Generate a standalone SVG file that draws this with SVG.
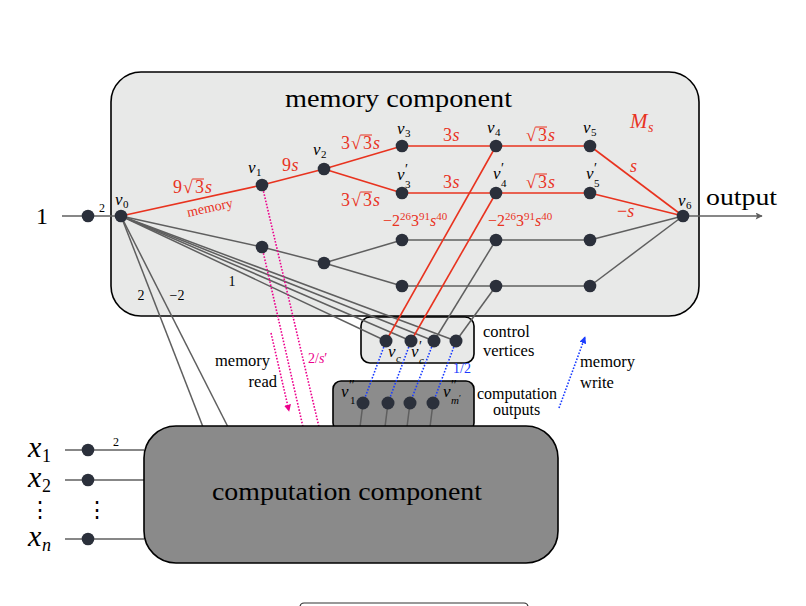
<svg xmlns="http://www.w3.org/2000/svg" width="806" height="606" viewBox="0 0 806 606">
<defs>
<style>
.t{font-family:"Liberation Serif","Times New Roman",serif;fill:#000}
.i{font-style:italic}
.rt{fill:#e8331f}
.n{fill:#2b303b}
.r{stroke:#e8331f;stroke-width:1.6;fill:none}
.g{stroke:#5f5f5f;stroke-width:1.5;fill:none}
.bd{stroke:#1a3cff;stroke-width:1.6;stroke-dasharray:1.6 1.6;fill:none}
.pd{stroke:#ec008c;stroke-width:1.6;stroke-dasharray:1.6 1.6;fill:none}
.box{stroke:#000;stroke-width:1.6}
.vb{stroke:#e8331f;stroke-width:1}
.pr{font-size:14px;font-style:normal}
</style>
<marker id="ap" viewBox="0 0 10 10" refX="9" refY="5" markerWidth="7" markerHeight="7" orient="auto" markerUnits="userSpaceOnUse"><path d="M0,0 L10,5 L0,10 z" fill="#ec008c"/></marker>
<marker id="ab" viewBox="0 0 10 10" refX="9" refY="5" markerWidth="7" markerHeight="7" orient="auto" markerUnits="userSpaceOnUse"><path d="M0,0 L10,5 L0,10 z" fill="#1a3cff"/></marker>
<marker id="ag" viewBox="0 0 10 10" refX="9" refY="5" markerWidth="8" markerHeight="7" orient="auto" markerUnits="userSpaceOnUse"><path d="M0,0 L10,5 L0,10 L2,5 z" fill="#5f5f5f"/></marker>
</defs>

<g id="memory-component">
<rect class="box" x="111" y="72" width="588" height="244" rx="30" fill="#e8e9e8"/>
<text class="t" x="285" y="107" font-size="25" textLength="227" lengthAdjust="spacingAndGlyphs">memory component</text>
<text class="t i rt" x="630" y="128" font-size="21">M<tspan x="648" y="132" font-size="14">s</tspan></text>
</g>

<g id="computation-outputs-box">
<rect class="box" x="333" y="381" width="141" height="50" rx="8" fill="#8c8c8c"/>
</g>

<g id="control-vertices-box">
<rect class="box" x="361" y="317" width="113" height="46" rx="9" fill="#e8e9e8"/>
</g>

<g id="connectors">
<line class="g" x1="62" y1="216" x2="121" y2="216"/>
<line class="g" x1="683" y1="216" x2="762" y2="216" marker-end="url(#ag)"/>
<line class="r" x1="121" y1="216" x2="262" y2="185"/>
<line class="r" x1="262" y1="185" x2="324" y2="169"/>
<line class="r" x1="324" y1="169" x2="402" y2="146"/>
<line class="r" x1="324" y1="169" x2="402" y2="193"/>
<line class="r" x1="402" y1="146" x2="496" y2="146"/>
<line class="r" x1="402" y1="193" x2="496" y2="193"/>
<line class="r" x1="496" y1="146" x2="590" y2="146"/>
<line class="r" x1="496" y1="193" x2="590" y2="193"/>
<line class="r" x1="590" y1="146" x2="683" y2="216"/>
<line class="r" x1="590" y1="193" x2="683" y2="216"/>
<line class="g" x1="121" y1="216" x2="262" y2="247"/>
<line class="g" x1="262" y1="247" x2="324" y2="263"/>
<line class="g" x1="324" y1="263" x2="402" y2="240"/>
<line class="g" x1="324" y1="263" x2="402" y2="286"/>
<line class="g" x1="402" y1="240" x2="496" y2="240"/>
<line class="g" x1="402" y1="286" x2="496" y2="286"/>
<line class="g" x1="496" y1="240" x2="590" y2="240"/>
<line class="g" x1="496" y1="286" x2="590" y2="286"/>
<line class="g" x1="590" y1="240" x2="683" y2="216"/>
<line class="g" x1="590" y1="286" x2="683" y2="216"/>
<line class="g" x1="121" y1="216" x2="386" y2="341"/>
<line class="g" x1="121" y1="216" x2="411" y2="341"/>
<line class="g" x1="121" y1="216" x2="434" y2="341"/>
<line class="g" x1="121" y1="216" x2="456" y2="341"/>
<line class="g" x1="121" y1="216" x2="203" y2="427"/>
<line class="g" x1="121" y1="216" x2="228" y2="427"/>
<line class="r" x1="496" y1="146" x2="386" y2="341"/>
<line class="r" x1="496" y1="193" x2="411" y2="341"/>
<line class="g" x1="496" y1="240" x2="434" y2="341"/>
<line class="g" x1="496" y1="286" x2="456" y2="341"/>
<line class="bd" x1="386" y1="341" x2="363" y2="403"/>
<line class="bd" x1="411" y1="341" x2="388" y2="403"/>
<line class="bd" x1="434" y1="341" x2="410" y2="403"/>
<line class="bd" x1="456" y1="341" x2="433" y2="403"/>
<line class="g" x1="363" y1="403" x2="360" y2="427"/>
<line class="g" x1="388" y1="403" x2="385" y2="427"/>
<line class="g" x1="410" y1="403" x2="407" y2="427"/>
<line class="g" x1="433" y1="403" x2="430" y2="427"/>
<line class="pd" x1="262" y1="185" x2="319" y2="427"/>
<line class="pd" x1="262" y1="247" x2="303" y2="427"/>
<line class="pd" x1="271" y1="333" x2="289" y2="411" marker-end="url(#ap)"/>
<line class="bd" x1="559" y1="408" x2="585" y2="337" marker-end="url(#ab)"/>
<line class="g" x1="65" y1="450" x2="144" y2="450"/>
<line class="g" x1="65" y1="480" x2="144" y2="480"/>
<line class="g" x1="65" y1="539" x2="144" y2="539"/>
</g>

<g id="computation-component">
<rect class="box" x="144" y="426" width="414" height="137" rx="32" fill="#8a8a8a"/>
<text class="t" x="212" y="500" font-size="25" textLength="270" lengthAdjust="spacingAndGlyphs">computation component</text>
</g>

<g id="input">
<circle class="n" cx="88" cy="216" r="6.3"/>
<text class="t" x="42" y="224" font-size="24" text-anchor="middle">1</text>
<text class="t" x="102" y="212" font-size="12" text-anchor="middle">2</text>
</g>
<g id="v0"><circle class="n" cx="121" cy="216" r="6.3"/><text class="t i" x="115" y="205" font-size="17">v<tspan x="123" y="208" font-size="11" font-style="normal">0</tspan></text></g>
<g id="v1"><circle class="n" cx="262" cy="185" r="6.3"/><text class="t i" x="248" y="173" font-size="17">v<tspan x="256" y="176" font-size="11" font-style="normal">1</tspan></text></g>
<g id="v2"><circle class="n" cx="324" cy="169" r="6.3"/><text class="t i" x="313" y="155" font-size="17">v<tspan x="321" y="158" font-size="11" font-style="normal">2</tspan></text></g>
<g id="v3"><circle class="n" cx="402" cy="146" r="6.3"/><text class="t i" x="397" y="134" font-size="17">v<tspan x="405" y="137" font-size="11" font-style="normal">3</tspan></text></g>
<g id="v3p"><circle class="n" cx="402" cy="193" r="6.3"/><text class="t i" x="397" y="180" font-size="17">v<tspan class="pr" x="405" y="174">′</tspan><tspan x="405" y="188" font-size="11" font-style="normal">3</tspan></text></g>
<g id="v4"><circle class="n" cx="496" cy="146" r="6.3"/><text class="t i" x="487" y="133" font-size="17">v<tspan x="495" y="136" font-size="11" font-style="normal">4</tspan></text></g>
<g id="v4p"><circle class="n" cx="496" cy="193" r="6.3"/><text class="t i" x="493" y="179" font-size="17">v<tspan class="pr" x="501" y="173">′</tspan><tspan x="501" y="187" font-size="11" font-style="normal">4</tspan></text></g>
<g id="v5"><circle class="n" cx="590" cy="146" r="6.3"/><text class="t i" x="583" y="133" font-size="17">v<tspan x="591" y="136" font-size="11" font-style="normal">5</tspan></text></g>
<g id="v5p"><circle class="n" cx="590" cy="193" r="6.3"/><text class="t i" x="586" y="179" font-size="17">v<tspan class="pr" x="594" y="173">′</tspan><tspan x="594" y="187" font-size="11" font-style="normal">5</tspan></text></g>
<g id="v6"><circle class="n" cx="683" cy="216" r="6.3"/><text class="t i" x="678" y="206" font-size="17">v<tspan x="686" y="209" font-size="11" font-style="normal">6</tspan></text></g>
<g id="a"><circle class="n" cx="262" cy="247" r="6.3"/></g>
<g id="b"><circle class="n" cx="324" cy="263" r="6.3"/></g>
<g id="c"><circle class="n" cx="402" cy="240" r="6.3"/></g>
<g id="d"><circle class="n" cx="402" cy="286" r="6.3"/></g>
<g id="e"><circle class="n" cx="496" cy="240" r="6.3"/></g>
<g id="f"><circle class="n" cx="496" cy="286" r="6.3"/></g>
<g id="g5"><circle class="n" cx="590" cy="240" r="6.3"/></g>
<g id="h5"><circle class="n" cx="590" cy="286" r="6.3"/></g>

<g id="control-vertices">
<circle class="n" cx="386" cy="341" r="6.5"/>
<circle class="n" cx="411" cy="341" r="6.5"/>
<circle class="n" cx="434" cy="341" r="6.5"/>
<circle class="n" cx="456" cy="341" r="6.5"/>
<text class="t i" x="388" y="357" font-size="17">v<tspan x="396" y="362" font-size="11">c</tspan></text>
<text class="t i" x="411" y="357" font-size="17">v<tspan class="pr" x="419" y="351">′</tspan><tspan x="419" y="364" font-size="11">c</tspan></text>
<text class="t" x="483" y="337" font-size="16.5">control</text>
<text class="t" x="483" y="356" font-size="16.5">vertices</text>
</g>

<g id="computation-outputs">
<circle class="n" cx="363" cy="403" r="6.5"/>
<circle class="n" cx="388" cy="403" r="6.5"/>
<circle class="n" cx="410" cy="403" r="6.5"/>
<circle class="n" cx="433" cy="403" r="6.5"/>
<text class="t i" x="341" y="397" font-size="17">v<tspan class="pr" x="349" y="390">″</tspan><tspan x="350" y="404" font-size="11" font-style="normal">1</tspan></text>
<text class="t i" x="443" y="397" font-size="17">v<tspan class="pr" x="451" y="390">″</tspan><tspan x="451" y="404" font-size="11">m</tspan><tspan font-size="9" font-style="normal" dy="-3">′</tspan></text>
<text class="t" x="477" y="399" font-size="16">computation</text>
<text class="t" x="493" y="415" font-size="16">outputs</text>
</g>

<g id="memory-labels">
<g class="t rt" font-size="18">
<text x="173" y="193">9</text><text x="183" y="193">√</text><text x="195" y="193">3</text><text class="i" x="205" y="193">s</text>
<text x="282" y="171">9</text><text class="i" x="291.5" y="171">s</text>
<text x="341" y="149">3</text><text x="351" y="149">√</text><text x="363" y="149">3</text><text class="i" x="373" y="149">s</text>
<text x="341" y="206">3</text><text x="351" y="206">√</text><text x="363" y="206">3</text><text class="i" x="373" y="206">s</text>
<text x="443" y="141">3</text><text class="i" x="452.5" y="141">s</text>
<text x="443" y="188">3</text><text class="i" x="452.5" y="188">s</text>
<text x="526" y="141">√</text><text x="538" y="141">3</text><text class="i" x="548" y="141">s</text>
<text x="526" y="188">√</text><text x="538" y="188">3</text><text class="i" x="548" y="188">s</text>
<text class="i" x="630" y="172">s</text>
<text x="617" y="217">−<tspan font-style="italic">s</tspan></text>
</g>
<g class="vb">
<line x1="192.5" y1="179" x2="204" y2="179"/>
<line x1="360.5" y1="135" x2="372" y2="135"/>
<line x1="360.5" y1="192" x2="372" y2="192"/>
<line x1="535.5" y1="127" x2="547" y2="127"/>
<line x1="535.5" y1="174" x2="547" y2="174"/>
</g>
<text class="t rt" x="383" y="226" font-size="16">−2<tspan font-size="11" dy="-6">26</tspan><tspan dy="6">3</tspan><tspan font-size="11" dy="-6">91</tspan><tspan class="i" dy="6">s</tspan><tspan font-size="11" dy="-6">40</tspan></text>
<text class="t rt" x="488" y="226" font-size="16">−2<tspan font-size="11" dy="-6">26</tspan><tspan dy="6">3</tspan><tspan font-size="11" dy="-6">91</tspan><tspan class="i" dy="6">s</tspan><tspan font-size="11" dy="-6">40</tspan></text>
<text class="t rt" x="210" y="212" font-size="14" text-anchor="middle" transform="rotate(-12.4 210 208)">memory</text>
<text class="t" x="141" y="300" font-size="14" text-anchor="middle">2</text>
<text class="t" x="177" y="300" font-size="14" text-anchor="middle">−2</text>
<text class="t" x="232" y="286" font-size="14" text-anchor="middle">1</text>
</g>

<g id="output-label"><text class="t" x="706" y="205" font-size="24" textLength="71" lengthAdjust="spacingAndGlyphs">output</text></g>

<g id="flow-labels">
<text class="t" x="270" y="366" font-size="16.5" text-anchor="end">memory</text>
<text class="t" x="277" y="387" font-size="16.5" text-anchor="end">read</text>
<text class="t" x="580" y="367" font-size="16.5">memory</text>
<text class="t" x="580" y="388" font-size="16.5">write</text>
<text class="t" x="308" y="363" font-size="14" style="fill:#ec008c">2/<tspan font-style="italic">s</tspan>′</text>
<text class="t" x="453" y="373" font-size="14" style="fill:#1a3cff">1/2</text>
</g>

<g id="inputs">
<circle class="n" cx="88" cy="450" r="6.3"/>
<circle class="n" cx="88" cy="480" r="6.3"/>
<circle class="n" cx="88" cy="539" r="6.3"/>
<text class="t i" x="28" y="457" font-size="30">x<tspan x="42" y="462" font-size="18" font-style="normal">1</tspan></text>
<text class="t i" x="28" y="487" font-size="30">x<tspan x="42" y="492" font-size="18" font-style="normal">2</tspan></text>
<text class="t i" x="28" y="546" font-size="30">x<tspan x="42" y="551" font-size="18">n</tspan></text>
<text class="t" x="40" y="517" font-size="22" text-anchor="middle">⋮</text>
<text class="t" x="97" y="517" font-size="22" text-anchor="middle">⋮</text>
<text class="t" x="116" y="446" font-size="12" text-anchor="middle">2</text>
</g>

<g id="bottom-box">
<rect x="300" y="603" width="228" height="20" rx="4" fill="#fff" stroke="#333" stroke-width="1.2"/>
</g>
</svg>
